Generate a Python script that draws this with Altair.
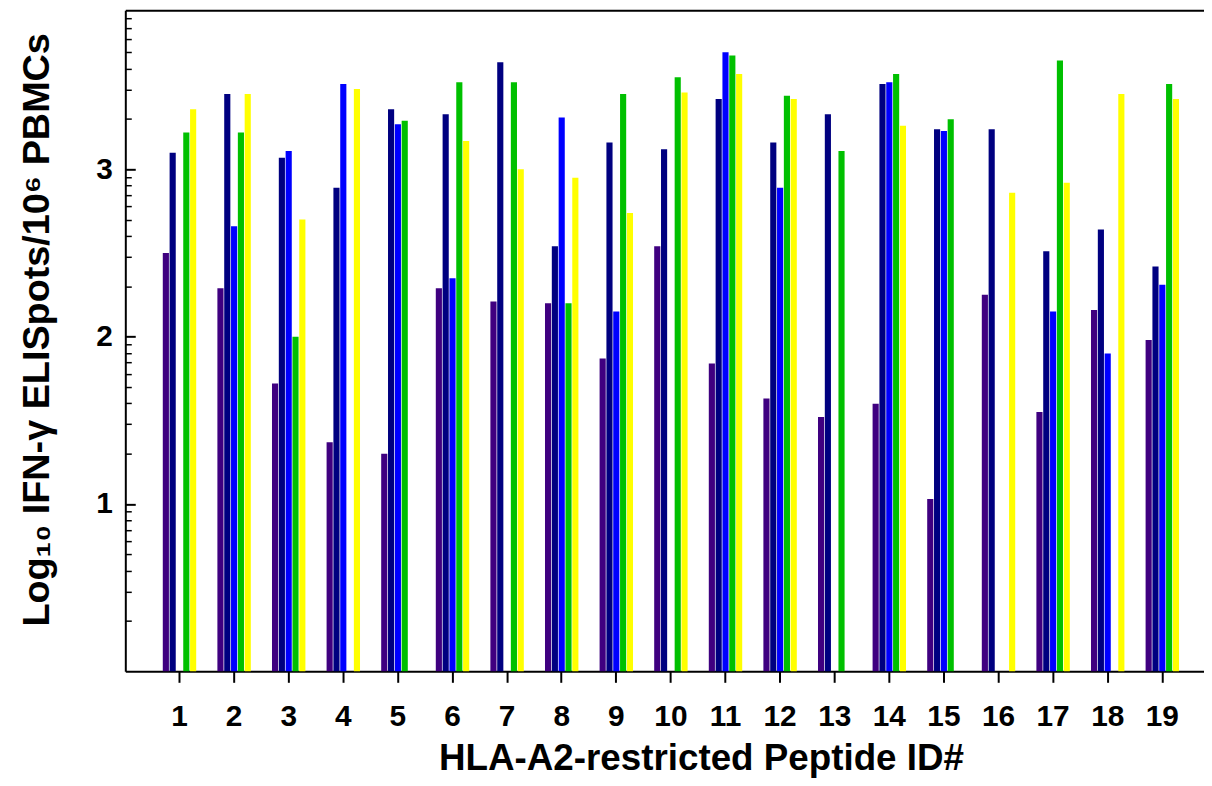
import math
import altair as alt
import pandas as pd

peptides = list(range(1, 20))
series = ["S1", "S2", "S3", "S4", "S5"]
colors = ["#3f0080", "#000080", "#0000ff", "#00c000", "#ffff00"]

s1 = [2.50, 2.29, 1.72, 1.37, 1.30, 2.29, 2.21, 2.20, 1.87, 2.54, 1.84, 1.63, 1.52, 1.60, 1.03, 2.25, 1.55, 2.16, 1.98]
s2 = [3.10, 3.45, 3.07, 2.89, 3.36, 3.33, 3.64, 2.54, 3.16, 3.12, 3.42, 3.16, 3.33, 3.51, 3.24, 3.24, 2.51, 2.64, 2.42]
s3 = [None, 2.66, 3.11, 3.51, 3.27, 2.35, None, 3.31, 2.15, None, 3.70, 2.89, None, 3.52, 3.23, None, 2.15, 1.90, 2.31]
s4 = [3.22, 3.22, 2.00, None, 3.29, 3.52, 3.52, 2.20, 3.45, 3.55, 3.68, 3.44, 3.11, 3.57, 3.30, None, 3.65, None, 3.51]
s5 = [3.36, 3.45, 2.70, 3.48, None, 3.17, 3.00, 2.95, 2.74, 3.46, 3.57, 3.42, None, 3.26, None, 2.86, 2.92, 3.45, 3.42]

rows = []
for name, vals in zip(series, [s1, s2, s3, s4, s5]):
    for p, v in zip(peptides, vals):
        if v is not None:
            rows.append({"peptide": p, "series": name, "value": v})
df = pd.DataFrame(rows)

YMAX = 3.951
major = [1, 2, 3]
minor = [k + math.log10(m) for k in range(4) for m in range(2, 10) if k + math.log10(m) < YMAX]

FONT = "Liberation Sans"

xscale = alt.Scale(paddingInner=0.388, paddingOuter=0.572, align=0.6)
oscale = alt.Scale(domain=series, paddingInner=0.1, paddingOuter=0)
yscale = alt.Scale(domain=[0, YMAX], nice=False, zero=True)

base = alt.Chart(df)

bars = base.mark_bar().encode(
    x=alt.X("peptide:O", scale=xscale, axis=alt.Axis(
        orient="bottom", labelAngle=0, labelFontSize=30, labelFontWeight="bold",
        labelPadding=19, tickSize=11, tickWidth=2, domainWidth=2,
        title="HLA-A2-restricted Peptide ID#", titleFontSize=37, titleFontWeight="bold",
        titleX=579, titleY=99, titleBaseline="alphabetic", titleAlign="center")),
    xOffset=alt.XOffset("series:N", scale=oscale),
    y=alt.Y("value:Q", scale=yscale, axis=alt.Axis(
        orient="left", values=major, format="d", offset=-10, tickSize=10, tickWidth=2,
        domain=False, labelFontSize=30, labelFontWeight="bold", labelPadding=13,
        title="Log₁₀ IFN-γ ELISpots/10⁶ PBMCs", titleFontSize=38, titleFontWeight="bold",
        titleX=-87, titleY=321, titleBaseline="alphabetic", titleAngle=270, titleAlign="center")),
    color=alt.Color("series:N", scale=alt.Scale(domain=series, range=colors), legend=None),
)

minor_layer = base.mark_bar(opacity=0).encode(
    x=alt.X("peptide:O", scale=xscale, axis=alt.Axis(
        orient="top", domain=True, domainWidth=2, ticks=False, labels=False, title=None)),
    xOffset=alt.XOffset("series:N", scale=oscale),
    y=alt.Y("value:Q", scale=yscale, axis=alt.Axis(
        orient="left", values=minor, offset=-6, tickSize=6, tickWidth=1.5,
        domain=False, labels=False, title=None)),
)

frame_layer = base.mark_bar(opacity=0).encode(
    x=alt.X("peptide:O", scale=xscale, axis=None),
    xOffset=alt.XOffset("series:N", scale=oscale),
    y=alt.Y("value:Q", scale=yscale, axis=alt.Axis(
        orient="left", domain=True, domainWidth=2, ticks=False, labels=False, title=None)),
)

chart = alt.layer(bars, minor_layer, frame_layer).resolve_axis(
    x="independent", y="independent"
).properties(
    width=1085, height=665,
    autosize=alt.AutoSizeParams(type="none"),
    padding={"left": 118, "top": 0, "right": 0, "bottom": 105},
).configure_axis(
    grid=False, domainColor="black", tickColor="black", labelColor="black",
    titleColor="black", labelFont=FONT, titleFont=FONT,
).configure_view(stroke=None)

chart.save("out.html", embed_options={"renderer": "svg", "actions": False})
